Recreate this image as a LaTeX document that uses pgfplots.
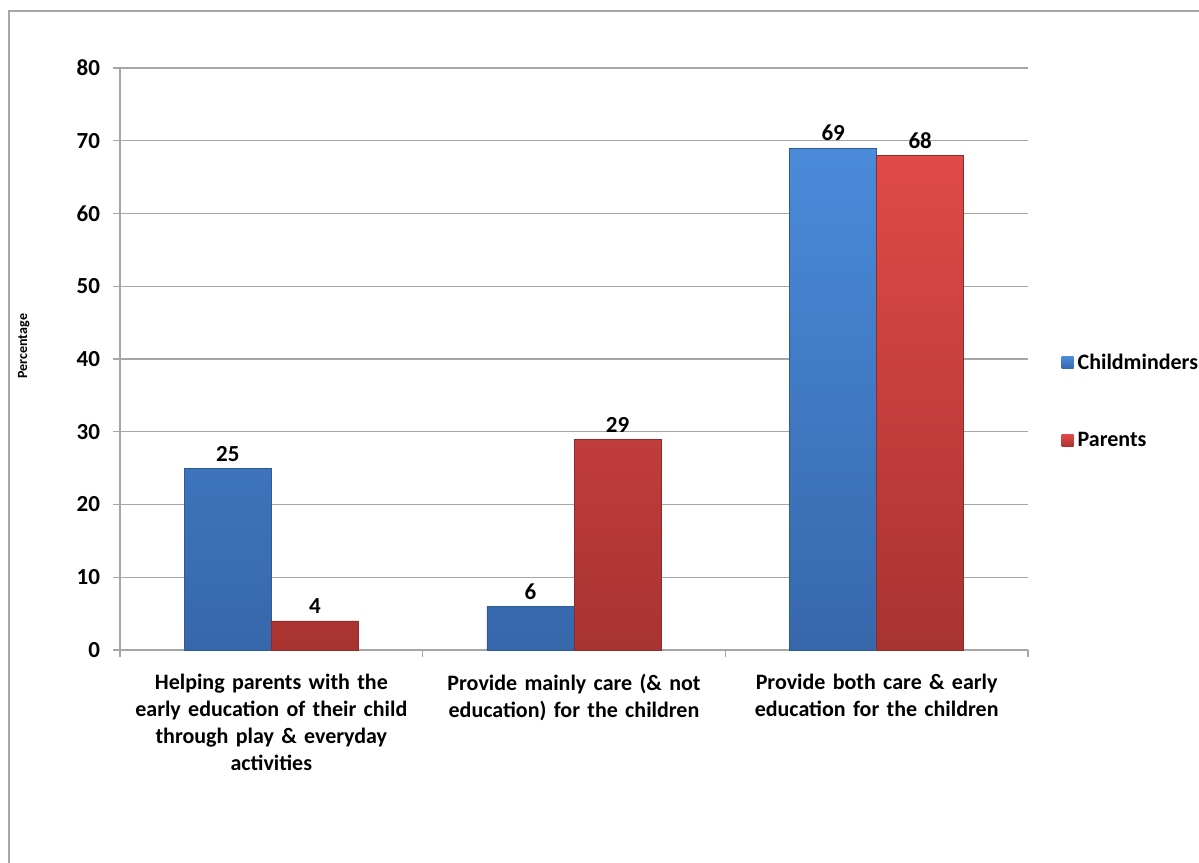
\documentclass[border=0pt]{standalone}
\usepackage{pgfplots}
\pgfplotsset{compat=1.18}
\usepackage{fontspec}
\setmainfont{Carlito}
\definecolor{bluetop}{HTML}{4A8BDA}
\definecolor{bluebot}{HTML}{3767AB}
\definecolor{blueedge}{HTML}{2E5A96}
\definecolor{redtop}{HTML}{E04A47}
\definecolor{redbot}{HTML}{A83331}
\definecolor{rededge}{HTML}{8E2A28}
\definecolor{gridc}{HTML}{A6A6A6}
\begin{document}
\begin{tikzpicture}
\useasboundingbox (0,0) rectangle (599.5pt,431pt);
\draw[gridc, line width=0.9pt] (4.5pt,-1pt) -- (4.5pt,425.5pt) -- (600pt,425.5pt);
\begin{axis}[
  at={(60pt,106pt)}, anchor=south west,
  scale only axis, width=454pt, height=291pt,
  ybar=0pt, bar width=43.5pt,
  xmin=-0.5, xmax=2.5, ymin=0, ymax=80,
  ytick={0,10,...,80},
  xtick={-0.5,0.5,1.5,2.5},
  x tick label as interval,
  xticklabels={{Helping parents with the\\early education of their child\\through play \& everyday\\activities},
               {Provide mainly care (\& not\\education) for the children},
               {Provide both care \& early\\education for the children}},
  xticklabel style={align=center, text width=160pt, font=\fontsize{11}{13.5}\selectfont\bfseries, yshift=-5pt, anchor=north},
  yticklabel style={font=\fontsize{11.5}{13}\selectfont\bfseries, xshift=-3pt},
  /pgf/number format/assume math mode=true,
  axis x line*=bottom, axis y line*=left,
  axis line style={draw=gridc, line width=0.7pt, -},
  tick style={draw=gridc, line width=0.7pt},
  tick align=outside, major tick length=3.5pt,
  ymajorgrids, grid style={draw=gridc, line width=0.7pt},
  ylabel={Percentage},
  ylabel style={font=\fontsize{7}{8}\selectfont\bfseries, at={(axis description cs:-0.106,0.522)}, anchor=center},
  nodes near coords,
  every node near coord/.append style={font=\fontsize{11.5}{13}\selectfont\bfseries, black},
  legend style={at={(axis description cs:1.03,0.427)}, anchor=west, draw=none, fill=none,
    row sep=26pt, font=\fontsize{11}{13}\selectfont\bfseries},
  legend cell align=left,
  legend image code/.code={\path[#1, draw=none] (0pt,-3pt) rectangle (6pt,3pt);},
  clip=false,
]
\addplot[top color=bluetop, bottom color=bluebot, draw=blueedge, line width=0.3pt]
  coordinates {(0,25) (1,6) (2,69)};
\addplot[top color=redtop, bottom color=redbot, draw=rededge, line width=0.3pt]
  coordinates {(0,4) (1,29) (2,68)};
\legend{Childminders, Parents}
\end{axis}
\end{tikzpicture}
\end{document}
